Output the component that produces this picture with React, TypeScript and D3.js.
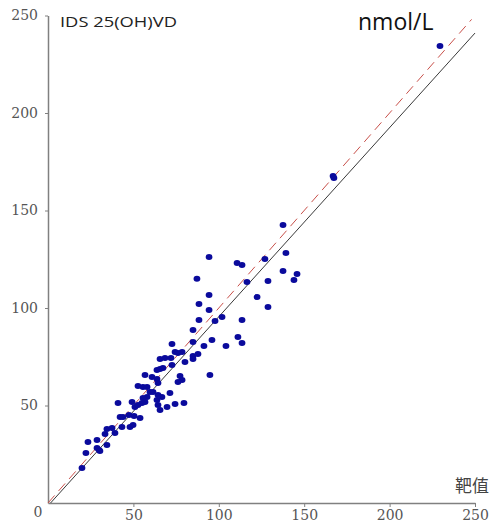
import React, { useEffect, useRef } from 'react';
import * as d3 from 'd3';

// target value (x) vs IDS 25(OH)VD (y), nmol/L
const targetValues = [
  229.5, 166.9, 167.4, 137.6, 139.3, 127.0, 110.7, 113.6, 94.3, 87.2,
  116.5, 137.6, 145.8, 144.0, 128.8, 94.3, 122.4, 88.4, 94.3, 128.8,
  88.4, 97.8, 101.9, 113.6, 84.9, 84.9, 96.0, 111.2, 113.6, 91.3,
  104.2, 72.6, 74.4, 76.1, 78.5, 84.9, 87.8, 65.6, 68.5, 72.0,
  84.9, 94.8, 80.2, 72.6, 63.8, 65.6, 67.3, 56.8, 60.9, 63.8,
  77.3, 78.5, 76.1, 64.4, 52.7, 55.6, 58.0, 59.7, 61.5, 71.4,
  64.4, 66.7, 58.0, 55.6, 63.8, 56.8, 55.0, 41.0, 49.2, 50.9,
  52.7, 64.4, 65.6, 69.7, 74.4, 79.6, 47.4, 50.4, 53.9, 42.2,
  43.9, 43.3, 48.0, 49.8, 34.5, 37.5, 39.2, 33.4, 23.4, 28.7,
  28.7, 29.9, 30.4, 34.5, 22.2, 19.9
];
const idsValues = [
  234.4, 167.7, 166.7, 142.6, 128.2, 125.1, 123.1, 122.1, 126.2, 115.0,
  113.3, 119.0, 117.4, 114.4, 113.8, 106.7, 105.6, 102.1, 99.0, 100.5,
  93.8, 93.3, 95.4, 93.8, 88.7, 82.6, 83.6, 85.1, 82.1, 80.5,
  80.5, 81.5, 77.4, 76.9, 77.4, 75.4, 76.4, 73.8, 74.4, 74.4,
  73.8, 65.6, 72.3, 70.8, 68.2, 68.7, 69.2, 65.6, 64.6, 63.6,
  65.1, 63.1, 62.1, 61.5, 60.0, 59.5, 59.5, 56.9, 56.9, 56.4,
  55.4, 54.4, 54.4, 53.8, 52.8, 51.8, 51.3, 51.3, 51.8, 49.2,
  50.3, 50.3, 47.7, 49.2, 50.8, 51.3, 45.1, 44.6, 43.6, 44.1,
  44.1, 39.0, 39.0, 40.0, 37.9, 38.5, 35.9, 35.4, 31.3, 32.3,
  28.2, 27.2, 26.7, 29.7, 25.6, 17.9
];

const tickValues = [50, 100, 150, 200, 250];

// identity line (dashed) and fitted line (solid)
const identityLine = [[0, 0], [248, 248]];
const fitLine = [[1.5, 0], [250, 241]];

const App = () => {
  const svgRef = useRef<SVGSVGElement | null>(null);

  useEffect(() => {
    if (!svgRef.current) return;
    const svg = d3.select(svgRef.current);
    svg.selectAll('*').remove();

    const width = 490;
    const height = 523;
    const margin = { left: 48, right: 15, top: 15.5, bottom: 20 };

    const x = d3.scaleLinear().domain([0, 250]).range([margin.left, width - margin.right]);
    const y = d3.scaleLinear().domain([0, 250]).range([height - margin.bottom, margin.top]);

    const axisColor = '#808080';
    const labelFont = '"DejaVu Serif", serif';

    // x axis
    svg.append('g')
      .attr('transform', `translate(0,${y(0)})`)
      .call(d3.axisBottom(x).tickValues(tickValues).tickSize(4).tickPadding(3).tickSizeOuter(0))
      .call(g => g.select('.domain').attr('stroke', axisColor).attr('stroke-width', 1.5))
      .call(g => g.selectAll('.tick line').attr('stroke', axisColor))
      .selectAll('text')
      .attr('fill', '#555')
      .style('font-family', labelFont)
      .style('font-size', '14px');

    // y axis
    svg.append('g')
      .attr('transform', `translate(${x(0)},0)`)
      .call(d3.axisLeft(y).tickValues(tickValues).tickSize(3).tickPadding(7).tickSizeOuter(0))
      .call(g => g.select('.domain').attr('stroke', axisColor).attr('stroke-width', 1.5))
      .call(g => g.selectAll('.tick line').attr('stroke', axisColor))
      .selectAll('text')
      .attr('fill', '#555')
      .style('font-family', labelFont)
      .style('font-size', '14px');

    // origin label
    svg.append('text')
      .attr('x', x(0) - 10)
      .attr('y', y(0) + 14)
      .attr('text-anchor', 'middle')
      .attr('fill', '#555')
      .style('font-family', labelFont)
      .style('font-size', '14px')
      .text('0');

    const line = d3.line<number[]>().x(d => x(d[0])).y(d => y(d[1]));

    svg.append('path')
      .attr('d', line(fitLine))
      .attr('fill', 'none')
      .attr('stroke', '#222')
      .attr('stroke-width', 0.9);

    svg.append('path')
      .attr('d', line(identityLine))
      .attr('fill', 'none')
      .attr('stroke', '#c8504a')
      .attr('stroke-width', 1)
      .attr('stroke-dasharray', '10,6');

    svg.append('g')
      .selectAll('ellipse')
      .data(targetValues.map((t, i) => [t, idsValues[i]]))
      .join('ellipse')
      .attr('cx', d => x(d[0]))
      .attr('cy', d => y(d[1]))
      .attr('rx', 3.4)
      .attr('ry', 3)
      .attr('fill', '#0a0a9c');

    svg.append('text')
      .attr('x', 60)
      .attr('y', 27)
      .attr('fill', '#222')
      .attr('textLength', 117)
      .attr('lengthAdjust', 'spacingAndGlyphs')
      .style('font-family', '"Open Sans", sans-serif')
      .style('font-size', '14px')
      .text('IDS 25(OH)VD');

    svg.append('text')
      .attr('x', 358)
      .attr('y', 30)
      .attr('fill', '#111')
      .style('font-family', '"Open Sans", sans-serif')
      .style('font-size', '23px')
      .text('nmol/L');

    svg.append('text')
      .attr('x', 489)
      .attr('y', 492)
      .attr('text-anchor', 'end')
      .attr('fill', '#444')
      .style('font-family', '"Noto Sans CJK SC", sans-serif')
      .style('font-size', '17px')
      .text('靶值');
  }, []);

  return (
    <svg
      ref={svgRef}
      width={490}
      height={523}
      style={{ position: 'absolute', left: 0, top: 0, background: '#fff' }}
    />
  );
};

export default App;
